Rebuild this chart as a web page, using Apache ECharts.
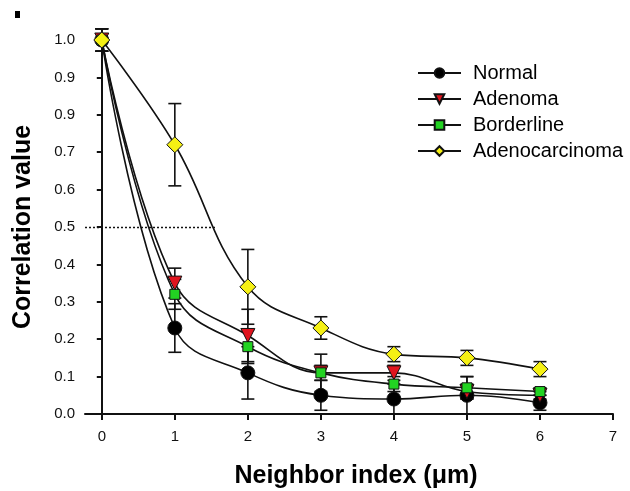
<!DOCTYPE html>
<html lang="en">
<head>
    <meta charset="UTF-8">
    <title>correlation</title>
    <script src="https://cdn.jsdelivr.net/npm/echarts@6/dist/echarts.min.js"></script>
    <style>html,body{margin:0;padding:0;background:#fff;}</style>
</head>
<body>
<div id="main" style="width: 630px;height:491px;"></div>
<script type="text/javascript">
    // data
    var xValues = [0, 1, 2, 3, 4, 5, 6];
    var normal = [1.0, 0.23, 0.11, 0.05, 0.04, 0.05, 0.03];
    var normalErr = [0.03, 0.065, 0.07, 0.04, 0.04, 0.05, 0.02];
    var adenoma = [1.0, 0.35, 0.21, 0.11, 0.11, 0.06, 0.05];
    var adenomaErr = [0.03, 0.04, 0.07, 0.05, 0.02, 0.02, 0.01];
    var borderline = [1.0, 0.32, 0.18, 0.11, 0.08, 0.07, 0.06];
    var borderlineErr = [0.03, 0.04, 0.045, 0.02, 0.02, 0.03, 0.01];
    var adenocarcinoma = [1.0, 0.72, 0.34, 0.23, 0.16, 0.15, 0.12];
    var adenocarcinomaErr = [0.03, 0.11, 0.10, 0.03, 0.02, 0.02, 0.02];
    var xTicks = [0, 1, 2, 3, 4, 5, 6, 7];
    var yTickLabels = ['0.0', '0.1', '0.2', '0.3', '0.4', '0.5', '0.6', '0.7', '0.9', '0.9', '1.0'];
    var halfLine = [[-0.23, 0.5], [1.55, 0.5]];

    var myChart = echarts.init(document.getElementById('main'));
    var font = 'Liberation Sans, Arial, sans-serif';

    function pairs(vals) {
        return xValues.map(function (x, i) { return [x, vals[i]]; });
    }
    function errData(vals, err) {
        return xValues.map(function (x, i) { return [x, vals[i] - err[i], vals[i] + err[i]]; });
    }
    function errSeries(vals, err) {
        return {
            type: 'custom',
            z: 1,
            silent: true,
            clip: false,
            data: errData(vals, err),
            renderItem: function (params, api) {
                var lo = api.coord([api.value(0), api.value(1)]);
                var hi = api.coord([api.value(0), api.value(2)]);
                var w = 6.5;
                var st = { stroke: '#111', lineWidth: 1.6 };
                return {
                    type: 'group',
                    children: [
                        { type: 'line', shape: { x1: lo[0], y1: lo[1], x2: hi[0], y2: hi[1] }, style: st },
                        { type: 'line', shape: { x1: lo[0] - w, y1: lo[1], x2: lo[0] + w, y2: lo[1] }, style: st },
                        { type: 'line', shape: { x1: hi[0] - w, y1: hi[1], x2: hi[0] + w, y2: hi[1] }, style: st }
                    ]
                };
            }
        };
    }
    function lineSeries(name, vals, symbol, size, color, rotate) {
        return {
            name: name,
            type: 'line',
            z: 3,
            smooth: 0.4,
            data: pairs(vals),
            symbol: symbol,
            symbolSize: size,
            symbolRotate: rotate || 0,
            showAllSymbol: true,
            lineStyle: { color: '#111', width: 1.6 },
            itemStyle: { color: color, borderColor: '#111', borderWidth: 1 },
            emphasis: { disabled: true }
        };
    }

    var lines = [
        lineSeries('Normal', normal, 'circle', 14, '#000'),
        lineSeries('Adenoma', adenoma, 'triangle', 14, '#e0141e', 180),
        lineSeries('Borderline', borderline, 'rect', 10, '#22d322'),
        lineSeries('Adenocarcinoma', adenocarcinoma, 'diamond', 16, '#f5f014')
    ];

    var option = {
        animation: false,
        grid: { left: 85, right: 17, top: 40, bottom: 77, containLabel: false, outerBoundsMode: 'none' },
        legend: {
            left: 412,
            top: 58,
            orient: 'vertical',
            itemWidth: 43,
            itemHeight: 12,
            itemGap: 6,
            textStyle: { fontFamily: font, fontSize: 20, color: '#000', padding: [0, 0, 0, 7] },
            data: ['Normal', 'Adenoma', 'Borderline', 'Adenocarcinoma']
        },
        graphic: [
            { type: 'rect', left: 15, top: 11, shape: { width: 5, height: 7 }, style: { fill: '#000' } }
        ],
        xAxis: {
            type: 'value',
            min: -0.23,
            max: 7,
            name: 'Neighbor index (\u03bcm)',
            nameLocation: 'middle',
            nameGap: 50,
            nameTextStyle: { fontFamily: font, fontSize: 25, fontWeight: 'bold', color: '#000', padding: [0, 0, 0, 14] },
            axisLine: { lineStyle: { color: '#111', width: 2 } },
            axisTick: { show: true, length: 6, lineStyle: { color: '#111', width: 2 }, customValues: xTicks },
            axisLabel: { fontFamily: font, fontSize: 15, color: '#111', margin: 15, customValues: xTicks },
            splitLine: { show: false }
        },
        yAxis: {
            type: 'value',
            min: 0,
            max: 1.0,
            interval: 0.1,
            name: 'Correlation value',
            nameLocation: 'middle',
            nameGap: 49,
            nameTextStyle: { fontFamily: font, fontSize: 25, fontWeight: 'bold', color: '#000' },
            axisLine: { show: true, lineStyle: { color: '#111', width: 2 } },
            axisTick: { show: true, length: 5, lineStyle: { color: '#111', width: 2 } },
            axisLabel: {
                fontFamily: font, fontSize: 15, color: '#111', margin: 10,
                formatter: function (v) { return yTickLabels[Math.round(v * 10)]; }
            },
            splitLine: { show: false }
        },
        series: [
            errSeries(normal, normalErr),
            errSeries(adenoma, adenomaErr),
            errSeries(borderline, borderlineErr),
            errSeries(adenocarcinoma, adenocarcinomaErr)
        ].concat(lines).concat([
            {
                type: 'line',
                data: [],
                silent: true,
                markLine: {
                    silent: true,
                    symbol: 'none',
                    label: { show: false },
                    lineStyle: { color: '#111', type: [2, 2], width: 1.3 },
                    data: [[{ coord: halfLine[0] }, { coord: halfLine[1] }]]
                }
            }
        ])
    };
    myChart.setOption(option);
</script>
</body>
</html>
